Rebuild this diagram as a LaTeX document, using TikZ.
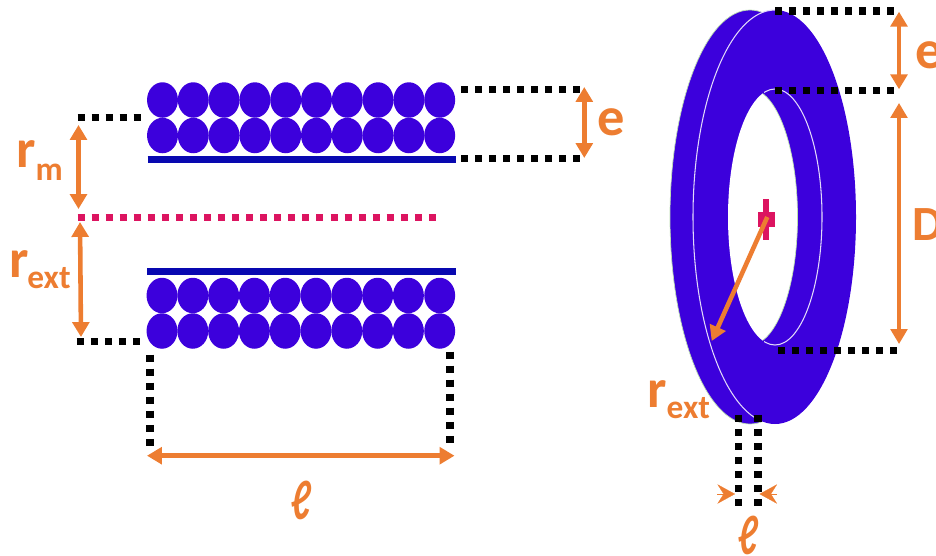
\documentclass[tikz,border=0pt]{standalone}
\usepackage{fontspec}
\setmainfont{Carlito}
\usetikzlibrary{shapes,arrows.meta}
\definecolor{wireblue}{HTML}{3C00DC}
\definecolor{barblue}{HTML}{0808B0}
\definecolor{dimorange}{HTML}{ED7D31}
\definecolor{axispink}{HTML}{DC1460}
\definecolor{rimgreen}{HTML}{BCDDB0}
\tikzset{
wire/.style={shape=ellipse,fill=wireblue,inner sep=0pt,minimum width=17.6pt,minimum height=20.2pt},
bar/.style={draw=barblue,line width=4pt},
dots/.style={draw=black,line width=4pt,dash pattern=on 4pt off 4pt},
axisdots/.style={draw=axispink,line width=4pt,dash pattern=on 4pt off 4pt},
dimline/.style={{Triangle[length=8.5pt,width=9.5pt]}-{Triangle[length=8.5pt,width=9.5pt]},draw=dimorange,line width=2.6pt},
thindim/.style={dimline,line width=1.9pt},
radius line/.style={-{Triangle[length=8.5pt,width=9.5pt]},draw=dimorange,line width=2.6pt},
pinch/.style={-{Stealth[length=10pt,width=11pt,inset=3.5pt]},draw=dimorange,line width=0.1pt},
dimtext/.style={text=dimorange,inner sep=0pt,font=\bfseries\fontsize{31}{36}\selectfont},
elltext/.style={text=dimorange,inner sep=0pt,xscale=0.62,yscale=0.88,font=\bfseries\itshape\fontsize{36}{40}\selectfont},
seam/.style={draw=white!85!wireblue,line width=0.6pt},
rim/.style={draw=rimgreen,line width=0.4pt}
}
\newcommand{\subfont}{\normalfont\bfseries\fontsize{19}{22}\selectfont}
\begin{document}
\begin{tikzpicture}[x=0.02cm,y=-0.02cm]
\clip (0,0) rectangle (936,555);

\node[wire] (a0) at (162.5,100) {};
\node[wire] (a1) at (193.3,100) {};
\node[wire] (a2) at (224.1,100) {};
\node[wire] (a3) at (254.9,100) {};
\node[wire] (a4) at (285.7,100) {};
\node[wire] (a5) at (316.5,100) {};
\node[wire] (a6) at (347.3,100) {};
\node[wire] (a7) at (378.1,100) {};
\node[wire] (a8) at (408.9,100) {};
\node[wire] (a9) at (439.7,100) {};
\node[wire] (b0) at (162.5,135.5) {};
\node[wire] (b1) at (193.3,135.5) {};
\node[wire] (b2) at (224.1,135.5) {};
\node[wire] (b3) at (254.9,135.5) {};
\node[wire] (b4) at (285.7,135.5) {};
\node[wire] (b5) at (316.5,135.5) {};
\node[wire] (b6) at (347.3,135.5) {};
\node[wire] (b7) at (378.1,135.5) {};
\node[wire] (b8) at (408.9,135.5) {};
\node[wire] (b9) at (439.7,135.5) {};
\node[wire] (c0) at (162,295.5) {};
\node[wire] (c1) at (192.8,295.5) {};
\node[wire] (c2) at (223.6,295.5) {};
\node[wire] (c3) at (254.4,295.5) {};
\node[wire] (c4) at (285.2,295.5) {};
\node[wire] (c5) at (316,295.5) {};
\node[wire] (c6) at (346.8,295.5) {};
\node[wire] (c7) at (377.6,295.5) {};
\node[wire] (c8) at (408.4,295.5) {};
\node[wire] (c9) at (439.7,295.5) {};
\node[wire] (d0) at (162,331) {};
\node[wire] (d1) at (192.8,331) {};
\node[wire] (d2) at (223.6,331) {};
\node[wire] (d3) at (254.4,331) {};
\node[wire] (d4) at (285.2,331) {};
\node[wire] (d5) at (316,331) {};
\node[wire] (d6) at (346.8,331) {};
\node[wire] (d7) at (377.6,331) {};
\node[wire] (d8) at (408.4,331) {};
\node[wire] (d9) at (439.7,331) {};

\coordinate (bar1a) at (147.5,159.5);
\coordinate (bar1b) at (456,159.5);
\coordinate (bar2a) at (147,271.5);
\coordinate (bar2b) at (456,271.5);
\path [bar] (bar1a) -- (bar1b);
\path [bar] (bar2a) -- (bar2b);

\coordinate (rma) at (77.5,117.7);
\coordinate (rmb) at (142,117.7);
\coordinate (rea) at (76.7,341.7);
\coordinate (reb) at (142,341.7);
\coordinate (axa) at (77.5,217.7);
\coordinate (axb) at (438,217.7);
\coordinate (ea) at (461,89.7);
\coordinate (eb) at (582,89.7);
\coordinate (ec) at (461,158.7);
\coordinate (ed) at (582,158.7);
\coordinate (la) at (150,354.5);
\coordinate (lb) at (150,446.5);
\coordinate (lc) at (450,351.5);
\coordinate (ld) at (450,443.5);
\path [dots] (rma) -- (rmb);
\path [dots] (rea) -- (reb);
\path [axisdots] (axa) -- (axb);
\path [dots] (ea) -- (eb);
\path [dots] (ec) -- (ed);
\path [dots] (la) -- (lb);
\path [dots] (lc) -- (ld);

\coordinate (rm1) at (78.5,125);
\coordinate (rm2) at (78.5,209);
\coordinate (re1) at (80,222);
\coordinate (re2) at (81,337);
\coordinate (e1) at (584.3,87);
\coordinate (e2) at (584.3,158);
\coordinate (l1) at (147,455.7);
\coordinate (l2) at (454.5,455.7);
\path [dimline] (rm1) -- (rm2);
\path [dimline] (re1) -- (re2);
\path [dimline] (e1) -- (e2);
\path [dimline] (l1) -- (l2);

\node[dimtext,anchor=base west] (rmtext) at (16,167) {r\raisebox{-7.5pt}{\subfont m}};
\node[dimtext,anchor=base west] (retext) at (9.5,277) {r\kern-1pt\raisebox{-6.5pt}{\subfont ext}};
\node[dimtext,anchor=base west] (etext) at (597,135) {e};
\node[elltext] (ltext) at (301.5,500) {ℓ};

\fill[wireblue] (750,217) ellipse [x radius=80,y radius=207];
\fill[wireblue] (775,217) ellipse [x radius=81,y radius=207];
\fill[wireblue] (750,13) rectangle (775,421);
\begin{scope}
\clip (660,0) rectangle (762,430);
\draw[rim] (750,217) ellipse [x radius=80,y radius=207];
\end{scope}
\begin{scope}
\clip (775,217) ellipse [x radius=47,y radius=128];
\fill[white] (750,217) ellipse [x radius=47.5,y radius=128];
\draw[rim] (750,217) ellipse [x radius=47.5,y radius=128];
\end{scope}
\begin{scope}
\clip (680,0) rectangle (775,217) (680,217) rectangle (762,430);
\draw[seam] (775,217) ellipse [x radius=82,y radius=207];
\end{scope}
\begin{scope}
\clip (764,0) rectangle (830,430);
\draw[seam] (775,217) ellipse [x radius=47,y radius=128];
\end{scope}

\fill[axispink] (763.3,199) rectangle (769.3,240);
\fill[axispink] (757.7,212) rectangle (775,226.7);

\coordinate (t1) at (775,11);
\coordinate (t2) at (896,11);
\coordinate (t3) at (775,90.3);
\coordinate (t4) at (896,90.3);
\coordinate (t5) at (778,350.7);
\coordinate (t6) at (899,350.7);
\coordinate (t7) at (738.3,414.8);
\coordinate (t8) at (738.3,506.5);
\coordinate (t9) at (758,414.8);
\coordinate (t10) at (758,506.5);
\path [dots] (t1) -- (t2);
\path [dots] (t3) -- (t4);
\path [dots] (t5) -- (t6);
\path [dots] (t7) -- (t8);
\path [dots] (t9) -- (t10);

\coordinate (h1) at (899,11.7);
\coordinate (h2) at (899,89.3);
\coordinate (h3) at (899,103);
\coordinate (h4) at (899,344);
\coordinate (c1x) at (767.3,217);
\coordinate (c2x) at (711.7,341);
\coordinate (p1) at (717,494);
\coordinate (p2) at (735,494);
\coordinate (p3) at (777,494);
\coordinate (p4) at (759.5,494);
\path [dimline] (h1) -- (h2);
\path [thindim] (h3) -- (h4);
\path [radius line] (c1x) -- (c2x);
\path [pinch] (p1) -- (p2);
\path [pinch] (p3) -- (p4);

\node[dimtext,anchor=base west] (e2text) at (915,68) {e};
\node[dimtext,anchor=base west,font=\bfseries\fontsize{28}{32}\selectfont] (dtext) at (912,240) {D};
\node[dimtext,anchor=base west] (re2text) at (647,407) {r\raisebox{-6.5pt}{\subfont ext}};
\node[elltext] (l2text) at (749,535) {ℓ};
\end{tikzpicture}
\end{document}
